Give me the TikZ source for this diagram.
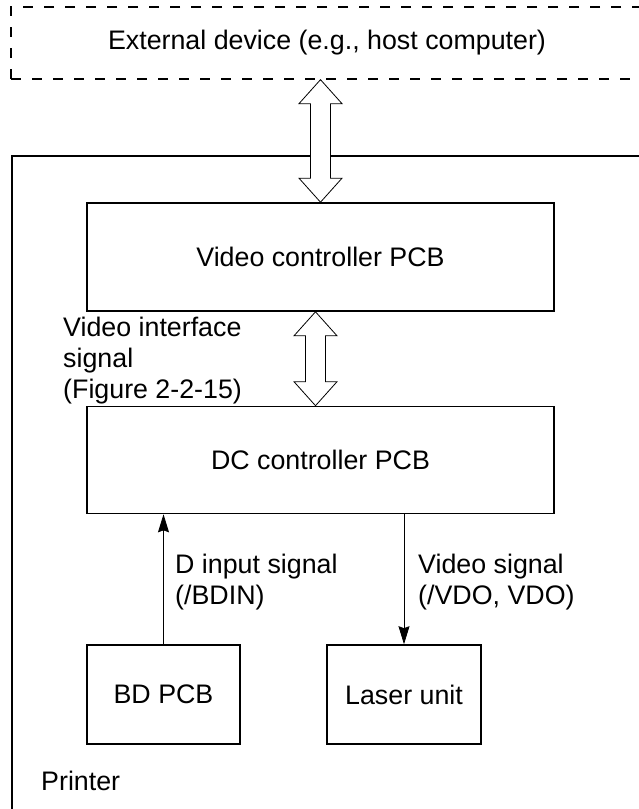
\documentclass[tikz,border=0pt]{standalone}
\usepackage{fontspec}
\setmainfont{Liberation Sans}
\usetikzlibrary{arrows.meta,calc}
\newcommand\fatarrow[2]{%
  \path[fatarr] let \p1=(#1), \p2=(#2) in
   (\x1,\y1) -- (\x1+21.5pt,\y1-24pt) -- (\x1+10pt,\y1-24pt) -- (\x1+10pt,\y2+24pt)
   -- (\x1+21.5pt,\y2+24pt) -- (\x1,\y2) -- (\x1-21.5pt,\y2+24pt) -- (\x1-10pt,\y2+24pt)
   -- (\x1-10pt,\y1-24pt) -- (\x1-21.5pt,\y1-24pt) -- cycle;}
\begin{document}
\begin{tikzpicture}[x=1pt,y=-1pt,
  every node/.style={font=\fontsize{26.8}{31}\selectfont, inner sep=0pt},
  box/.style={draw, line width=1.6pt, rectangle},
  dashbox/.style={draw, line width=1.3pt, dash pattern=on 10pt off 11pt, rectangle},
  fatarr/.style={draw, fill=white, line width=0.8pt, line join=miter},
  sig/.style={draw, line width=0.8pt, -{Stealth[length=18pt,width=11pt,inset=2pt]}},
  lbl/.style={align=left, anchor=base west}]
\useasboundingbox (0,0) rectangle (639,809);
\clip (0,0) rectangle (639,809);
\fill[white] (0,0) rectangle (639,809);
% outer frames
\node[dashbox, minimum width=689pt, minimum height=72pt] (ext) at (355.5,43) {};
\node (exttext) at (327,43) {External device (e.g., host computer)};
\node[box, minimum width=688pt, minimum height=747pt] (printer) at (356,529.5) {};
\node[anchor=base west] (printertext) at (41,790) {Printer};
% boxes
\node[box, minimum width=467pt, minimum height=108pt] (vid) at (320.5,257) {Video controller PCB};
\node[box, minimum width=467pt, minimum height=107pt] (dc) at (320.5,460) {DC controller PCB};
\node[box, minimum width=153pt, minimum height=99pt] (bd) at (163.5,694.5) {BD PCB};
\node[box, minimum width=154pt, minimum height=99pt] (laser) at (404,694.5) {Laser unit};
% fat arrows
\coordinate (a1t) at (ext.south -| vid.north);
\coordinate (a1b) at (vid.north);
\fatarrow{a1t}{a1b}
\coordinate (a2t) at ([xshift=-5pt]vid.south);
\coordinate (a2b) at (a2t |- dc.north);
\fatarrow{a2t}{a2b}
% thin arrows
\draw[sig] (bd.north) -- (bd.north |- dc.south);
\draw[sig] (laser.north |- dc.south) -- (laser.north);
% labels (anchored at the baseline of the last line)
\node[lbl] (vil) at (63,398) {Video interface\\signal\\(Figure 2-2-15)};
\node[lbl] (dil) at (175,604) {D input signal\\(/BDIN)};
\node[lbl] (vsl) at (418,604) {Video signal\\(/VDO, VDO)};
\end{tikzpicture}
\end{document}
